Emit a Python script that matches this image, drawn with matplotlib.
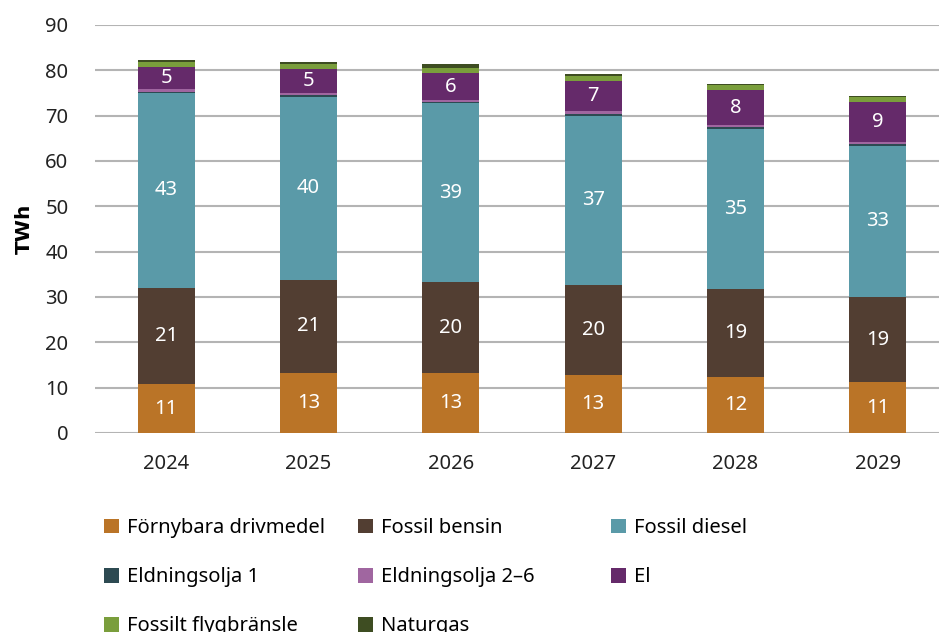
import matplotlib.pyplot as plt
import numpy as np

plt.rcParams['font.family'] = ['Noto Sans', 'DejaVu Sans']

years = ['2024', '2025', '2026', '2027', '2028', '2029']
fornybara = [10.8, 13.2, 13.2, 12.8, 12.3, 11.2]
bensin = [21.2, 20.6, 20.1, 19.8, 19.4, 18.8]
diesel = [43.0, 40.4, 39.4, 37.4, 35.4, 33.4]
eo1 = [0.2, 0.3, 0.35, 0.35, 0.4, 0.35]
eo26 = [0.6, 0.4, 0.4, 0.6, 0.5, 0.5]
el = [4.9, 5.4, 5.9, 6.8, 7.6, 8.7]
flyg = [1.1, 1.2, 1.1, 1.1, 1.1, 1.1]
naturgas = [0.4, 0.3, 0.9, 0.35, 0.35, 0.35]

series = [
    ('Förnybara drivmedel', fornybara, '#BA7427', True),
    ('Fossil bensin', bensin, '#523E32', True),
    ('Fossil diesel', diesel, '#5A9AA8', True),
    ('Eldningsolja 1', eo1, '#2D4A52', False),
    ('Eldningsolja 2–6', eo26, '#A066A0', False),
    ('El', el, '#652A6A', True),
    ('Fossilt flygbränsle', flyg, '#7A9E3C', False),
    ('Naturgas', naturgas, '#3E4D22', False),
]

fig = plt.figure(figsize=(9.39, 6.32), dpi=100)
ax = fig.add_axes([95 / 939, 199 / 632, 854 / 939, 408 / 632])

x = np.arange(len(years))
bottom = np.zeros(len(years))
handles = []
for name, vals, color, show in series:
    vals = np.array(vals)
    bars = ax.bar(x, vals, 0.4, bottom=bottom, color=color, label=name, zorder=3)
    handles.append(bars)
    if show:
        for xi, b, v in zip(x, bottom, vals):
            ax.text(xi, b + v / 2, f'{v:.0f}', ha='center', va='center',
                    color='white', fontsize=14.5, zorder=4)
    bottom += vals

ax.set_xlim(-0.5, 5.5)
ax.set_ylim(0, 90)
ax.set_yticks(range(0, 91, 10))
ax.set_xticks(x)
ax.set_xticklabels(years)
ax.tick_params(axis='both', length=0, labelsize=14.5, colors='#222222')
ax.tick_params(axis='x', pad=15)
ax.tick_params(axis='y', pad=19)
ax.grid(axis='y', color='#B4B4B4', linewidth=1.5, zorder=0)
for s in ax.spines.values():
    s.set_visible(False)
ax.set_ylabel('TWh', fontsize=14.5, fontweight='bold', labelpad=8,
              family=['DejaVu Sans'])

# legend laid out row by row, one legend per column
cols = [[0, 3, 6], [1, 4, 7], [2, 5]]
col_x = [96, 350, 603]
for cx, idx in zip(col_x, cols):
    leg = fig.legend([handles[i] for i in idx], [series[i][0] for i in idx],
                     loc='upper left', bbox_to_anchor=(cx / 939, 1 - 510 / 632),
                     frameon=False, fontsize=14.5, handlelength=0.75, handleheight=0.75,
                     handletextpad=0.4, labelspacing=1.45, borderaxespad=0)

fig.savefig('out.png', dpi=100)
